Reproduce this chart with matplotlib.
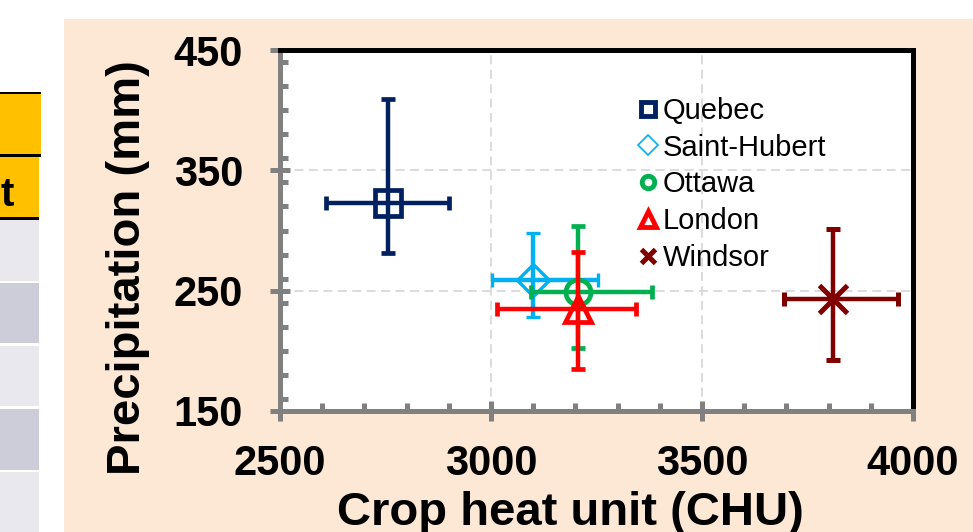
import matplotlib
matplotlib.use("Agg")
import matplotlib.pyplot as plt
from matplotlib.patches import Rectangle
from matplotlib.lines import Line2D
from matplotlib.ticker import MultipleLocator, FixedLocator

# Station means with their ranges (crop heat units and growing-season precipitation)
stations = ["Quebec", "Saint-Hubert", "Ottawa", "London", "Windsor"]
chu = [2756, 3099, 3205, 3206, 3810]
chu_low = [2609, 3002, 3095, 3014, 3694]
chu_high = [2901, 3254, 3381, 3343, 3964]
precip = [323, 259, 249, 235, 243]
precip_low = [281, 228, 202, 185, 192]
precip_high = [409, 298, 304, 282, 301]

x_ticks = [2500, 3000, 3500, 4000]
y_ticks = [150, 250, 350, 450]

colors = ["#002060", "#00B0F0", "#00B050", "#FF0000", "#800000"]
markers = ["s", "D", "o", "^", "x"]
marker_sizes = [19, 16, 18, 19, 20]
marker_edges = [3.4, 2.4, 3.4, 3.4, 3.6]
legend_sizes = [10, 10, 9, 11, 10]
legend_edges = [3.5, 1.2, 3.5, 3.5, 3.6]

plt.rcParams["font.family"] = ["Liberation Sans", "DejaVu Sans"]

W, H = 973, 532
fig = plt.figure(figsize=(W / 100, H / 100), dpi=100)
fig.patch.set_facecolor("white")


def px_rect(x0, y0, x1, y1, color, z=-10):
    fig.patches.append(Rectangle((x0 / W, 1 - y1 / H), (x1 - x0) / W, (y1 - y0) / H,
                                 transform=fig.transFigure, facecolor=color,
                                 edgecolor="none", zorder=z))


# slide background panel
px_rect(64, 19, W, H, "#FDE7D5")

# neighbouring table edge
px_rect(0, 93, 41, 155, "#FFC000")
px_rect(0, 155, 39, 218, "#FFC000")
rows = [(219, 281, "#E8E8EE"), (283, 343, "#CDCDD9"), (346, 406, "#E8E8EE"),
        (409, 470, "#CDCDD9"), (472, 532, "#E8E8EE")]
for y0, y1, c in rows:
    px_rect(0, y0, 39, y1, c)
for y, x1 in [(93, 41), (155, 41), (218, 39)]:
    px_rect(0, y - 1, x1, y + 1.5, "black", z=-9)
fig.text(14 / W, 1 - 206 / H, "t", ha="right", va="baseline", fontsize=29,
         fontweight="bold", color="black")

ax = fig.add_axes([280 / W, 1 - 411 / H, 633 / W, 361 / H])
ax.set_facecolor("white")

for i, name in enumerate(stations):
    ax.errorbar(chu[i], precip[i],
                xerr=[[chu[i] - chu_low[i]], [chu_high[i] - chu[i]]],
                yerr=[[precip[i] - precip_low[i]], [precip_high[i] - precip[i]]],
                fmt=markers[i], color=colors[i], mfc="none", mec=colors[i],
                ms=marker_sizes[i], mew=marker_edges[i],
                elinewidth=3.2, capsize=5.0, capthick=3.8, zorder=3 + i)

ax.set_xlim(2500, 4000)
ax.set_ylim(150, 450)
ax.xaxis.set_major_locator(FixedLocator(x_ticks))
ax.yaxis.set_major_locator(FixedLocator(y_ticks))
ax.xaxis.set_minor_locator(MultipleLocator(100))
ax.yaxis.set_minor_locator(MultipleLocator(20))

ax.set_axisbelow(True)
ax.grid(True, which="major", color="#D9D9D9", linestyle=(0, (5, 3)), linewidth=1.3)

for side in ["left", "bottom"]:
    ax.spines[side].set_color("#808080")
    ax.spines[side].set_linewidth(3.6)
for side in ["top", "right"]:
    ax.spines[side].set_color("black")
    ax.spines[side].set_linewidth(3.6)

ax.tick_params(which="major", direction="inout", length=15, width=3.6, color="#808080",
               labelsize=30)
ax.tick_params(axis="x", which="major", pad=16)
ax.tick_params(axis="y", which="major", pad=19)
ax.tick_params(which="minor", direction="in", length=6, width=3.6, color="#808080")
for lab in ax.get_xticklabels() + ax.get_yticklabels():
    lab.set_fontweight("bold")

fig.text(140 / W, 1 - 268 / H, "Precipitation (mm)", rotation=90, rotation_mode="anchor",
         ha="center", va="baseline", fontsize=34, fontweight="bold")
fig.text(570 / W, 1 - 525 / H, "Crop heat unit (CHU)", ha="center", va="baseline",
         fontsize=34, fontweight="bold")

handles = [Line2D([], [], linestyle="none", marker=markers[i], mfc="white",
                  mec=colors[i], color=colors[i], ms=legend_sizes[i], mew=legend_edges[i])
           for i in range(len(stations))]
ax.legend(handles, stations, loc="upper left", bbox_to_anchor=(0.565, 0.87),
          frameon=False, fontsize=21, handlelength=0.7, handletextpad=0.15,
          labelspacing=0.30, borderpad=0, borderaxespad=0)

fig.savefig("out.png", dpi=100)
